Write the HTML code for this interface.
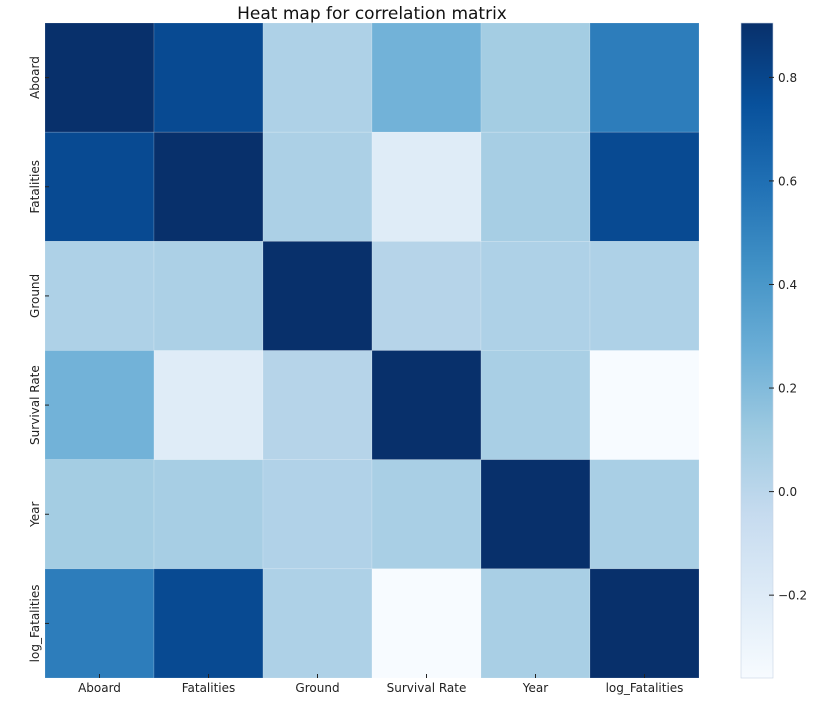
<!DOCTYPE html>
<html><head><meta charset="utf-8"><style>
body{margin:0;background:#fff;width:820px;height:703px;overflow:hidden}
svg{font-family:"DejaVu Sans","Liberation Sans",sans-serif}
</style></head><body>
<svg id="chart" width="820" height="703">
<defs><linearGradient id="cbg" x1="0" y1="1" x2="0" y2="0"></linearGradient></defs>
<text x="372" y="19" text-anchor="middle" font-size="17" fill="#111">Heat map for correlation matrix</text>
<g id="cells"></g>
<g id="xlabels"></g>
<g id="ylabels"></g>
<rect x="741" y="23" width="32" height="655" fill="url(#cbg)" stroke="#c8d4e4" stroke-width="0.6"/>
<g id="cbticks"></g>
</svg>
<script>
const categories=["Aboard","Fatalities","Ground","Survival Rate","Year","log_Fatalities"];
const rowAboard=[1,0.78,0.05,0.25,0.09,0.53];
const rowFatalities=[0.78,1,0.06,-0.21,0.08,0.78];
const rowGround=[0.05,0.06,1,0.02,0.05,0.05];
const rowSurvival=[0.25,-0.21,0.02,1,0.07,-0.36];
const rowYear=[0.09,0.08,0.04,0.07,1,0.07];
const rowLog=[0.53,0.78,0.05,-0.36,0.07,1];
const matrix=[rowAboard,rowFatalities,rowGround,rowSurvival,rowYear,rowLog];
const cbTicks=[-0.2,0.0,0.2,0.4,0.6,0.8];
const vmin=-0.36, vmax=0.905;
const L=45,T=23,W=654,H=655,n=categories.length,cw=W/n,ch=H/n;
const stops=["#f7fbff","#deebf7","#c6dbef","#9ecae1","#6baed6","#4292c6","#2171b5","#08519c","#08306b"];
function hex(h){return [1,3,5].map(i=>parseInt(h.substr(i,2),16));}
function cmap(v){let t=(v-vmin)/(vmax-vmin);t=Math.max(0,Math.min(1,t));const p=t*8,i=Math.min(7,Math.floor(p)),f=p-i;const a=hex(stops[i]),b=hex(stops[i+1]);return `rgb(${a.map((x,k)=>Math.round(x+(b[k]-x)*f)).join(",")})`;}
const NS="http://www.w3.org/2000/svg";
function mk(tag,attrs,parent){const e=document.createElementNS(NS,tag);for(const k in attrs)e.setAttribute(k,attrs[k]);parent.appendChild(e);return e;}
const xs=i=>L+i*cw, ys=j=>T+j*ch, cy=v=>T+H*(vmax-v)/(vmax-vmin);
const cells=document.getElementById("cells");
matrix.forEach((row,j)=>row.forEach((v,i)=>{
 const r=mk("rect",{x:xs(i),y:ys(j),width:cw,height:ch,fill:cmap(v),stroke:"rgba(255,255,255,0.25)","stroke-width":0.6},cells);
 
 
}));
const xl=document.getElementById("xlabels"),yl=document.getElementById("ylabels");
categories.forEach((c,i)=>{
 const x=xs(i)+cw/2;
 mk("line",{x1:x,x2:x,y1:T+H,y2:T+H-4,stroke:"#222"},xl);
 const t=mk("text",{x:x,y:692,"text-anchor":"middle","font-size":12,fill:"#222"},xl);t.textContent=c;
 
 
 const y=ys(i)+ch/2;
 mk("line",{x1:L,x2:L+4,y1:y,y2:y,stroke:"#222"},yl);
 const u=mk("text",{x:0,y:0,"text-anchor":"middle","font-size":12,fill:"#222",transform:`translate(39,${y}) rotate(-90)`},yl);u.textContent=c;
 
 
});
const g=document.getElementById("cbg");
stops.forEach((s,k)=>mk("stop",{offset:(k/8*100)+"%","stop-color":s},g));
const cb=document.getElementById("cbticks");
cbTicks.forEach(v=>{
 const y=cy(v);
 mk("line",{x1:769,x2:774,y1:y,y2:y,stroke:"#222"},cb);
 const t=mk("text",{x:778,y:y+4.5,"font-size":12,fill:"#222"},cb);
 t.textContent=(v<0?"\u2212":"")+Math.abs(v).toFixed(1);
 
 
});
</script>
</body></html>
